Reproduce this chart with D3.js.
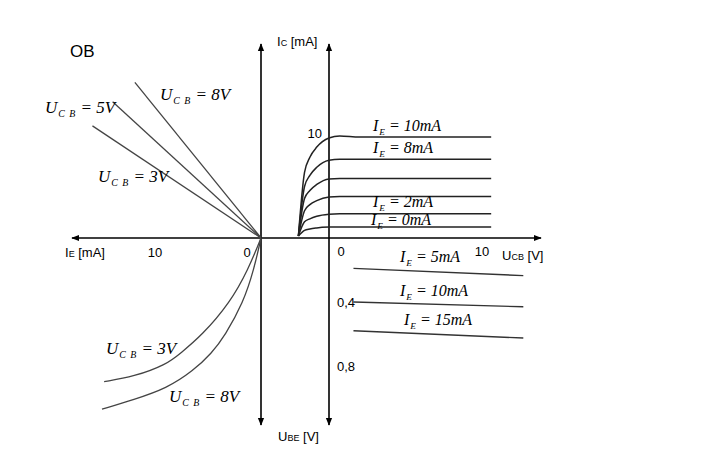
<!doctype html>
<html lang="en">
<head>
<meta charset="UTF-8">
<title>OB characteristics</title>
<script src="https://d3js.org/d3.v7.min.js"></script>
<style>
  body { margin: 0; background: #fff; }
  text { fill: #000; }
  .sans { font-family: "Liberation Sans", Arial, sans-serif; }
  .math { font-family: "Liberation Serif", "Times New Roman", serif; font-style: italic; }
</style>
</head>
<body>
<div id="chart"></div>
<script>
// output characteristics Ic = f(Ucb), one curve per Ie
const ucbPts = [-2, -1.6, -1.25, -0.8, 0, 0.7, 2, 10.6];
const icCurves = [
  [0.2, 6.5, 8.0, 9.0, 9.9, 10.1, 10.0, 10.0],
  [0.2, 5.1, 6.2, 7.0, 7.7, 7.8, 7.8, 7.8],
  [0.2, 3.9, 4.7, 5.3, 5.85, 5.9, 5.9, 5.9],
  [0.2, 2.7, 3.3, 3.7, 4.05, 4.1, 4.1, 4.1],
  [0.2, 1.6, 1.9, 2.15, 2.35, 2.4, 2.4, 2.4],
  [0.2, 0.75, 0.9, 1.0, 1.08, 1.1, 1.1, 1.1]
];
const icLabels = ['10mA', '8mA', null, null, '2mA', '0mA'];

// transfer Ic = f(Ie), straight lines per Ucb
const trUcb = ['8', '5', '3'];
const trIe = [11.9, 14.0, 15.9];
const trIc = [15.4, 13.5, 11.1];

// input Ie = f(Ube) per Ucb, points [Ie, Ube]
const inUcb = ['3', '8'];
const inCurves = [
  [[0, 0], [1.2, 0.196], [2.92, 0.404], [5.6, 0.61], [7.6, 0.72], [8.9, 0.79], [12.0, 0.867], [14.8, 0.898]],
  [[0, 0], [0.66, 0.196], [1.67, 0.404], [3.4, 0.61], [4.65, 0.72], [6.4, 0.83], [8.9, 0.94], [12.0, 1.01], [15.0, 1.07]]
];

// feedback Ube = f(Ucb) per Ie
const fbIe = ['5', '10', '15'];
const fbUcb = [1.6, 12.7];
const fbUbe = [[0.19, 0.235], [0.40, 0.43], [0.58, 0.625]];

// tick labels
const ucbTicks = [0, 10];
const ieTicks = [0, 10];
const icTicks = [10];
const ubeTicks = ['0,4', '0,8'];
const ubeTickVals = [0.4, 0.8];

const W = 701, H = 469;

const xR = d3.scaleLinear().domain([0, 10]).range([329, 482]);   // Ucb
const xL = d3.scaleLinear().domain([0, 10]).range([261, 155]);   // Ie
const yI = d3.scaleLinear().domain([0, 10]).range([238, 137]);   // Ic
const yU = d3.scaleLinear().domain([0, 0.4]).range([238, 302]);  // Ube

const svg = d3.select('#chart')
  .append('svg')
  .attr('width', W)
  .attr('height', H);

// arrows
const defs = svg.append('defs');
defs.append('marker')
  .attr('id', 'arr')
  .attr('viewBox', '0 0 10 10')
  .attr('refX', 9).attr('refY', 5)
  .attr('markerWidth', 5).attr('markerHeight', 5)
  .attr('orient', 'auto')
  .append('path')
  .attr('d', 'M0,1 L10,5 L0,9 Z')
  .attr('fill', '#000');

const axes = svg.append('g')
  .attr('stroke', '#000')
  .attr('stroke-width', 1.6);

// horizontal axis, both directions
axes.append('line')
  .attr('x1', xR(0)).attr('y1', yI(0)).attr('x2', 72).attr('y2', yI(0))
  .attr('marker-end', 'url(#arr)');
axes.append('line')
  .attr('x1', xR(0)).attr('y1', yI(0)).attr('x2', 541).attr('y2', yI(0))
  .attr('marker-end', 'url(#arr)');

// the two vertical axes
[xL(0), xR(0)].forEach(x => {
  axes.append('line')
    .attr('x1', x).attr('y1', yI(0)).attr('x2', x).attr('y2', 44)
    .attr('marker-end', 'url(#arr)');
  axes.append('line')
    .attr('x1', x).attr('y1', yI(0)).attr('x2', x).attr('y2', 425)
    .attr('marker-end', 'url(#arr)');
});

// curves
const curves = svg.append('g').attr('fill', 'none');

const outLine = d3.line()
  .x((d, i) => xR(ucbPts[i]))
  .y(d => yI(d))
  .curve(d3.curveMonotoneX);

curves.selectAll('.out')
  .data(icCurves)
  .enter()
  .append('path')
  .attr('class', 'out')
  .attr('d', outLine)
  .attr('stroke', '#222')
  .attr('stroke-width', 1.5);

curves.selectAll('.tr')
  .data(trUcb)
  .enter()
  .append('line')
  .attr('class', 'tr')
  .attr('x1', xL(0)).attr('y1', yI(0))
  .attr('x2', (d, i) => xL(trIe[i]))
  .attr('y2', (d, i) => yI(trIc[i]))
  .attr('stroke', '#444')
  .attr('stroke-width', 1.3);

const inLine = d3.line()
  .x(d => xL(d[0]))
  .y(d => yU(d[1]))
  .curve(d3.curveBasis);

curves.selectAll('.in')
  .data(inCurves)
  .enter()
  .append('path')
  .attr('class', 'in')
  .attr('d', inLine)
  .attr('stroke', '#444')
  .attr('stroke-width', 1.3);

curves.selectAll('.fb')
  .data(fbUbe)
  .enter()
  .append('line')
  .attr('class', 'fb')
  .attr('x1', xR(fbUcb[0])).attr('y1', d => yU(d[0]))
  .attr('x2', xR(fbUcb[1])).attr('y2', d => yU(d[1]))
  .attr('stroke', '#333')
  .attr('stroke-width', 1.4);

// tick labels
const ticks = svg.append('g').attr('class', 'sans').attr('font-size', 13);

ticks.selectAll('.tR')
  .data(ucbTicks)
  .enter()
  .append('text')
  .attr('x', d => d === 0 ? xR(d) + 12 : xR(d))
  .attr('y', yI(0) + 18)
  .attr('text-anchor', 'middle')
  .text(d => d);

ticks.selectAll('.tL')
  .data(ieTicks)
  .enter()
  .append('text')
  .attr('x', d => d === 0 ? xL(d) - 14 : xL(d))
  .attr('y', yI(0) + 19)
  .attr('text-anchor', 'middle')
  .text(d => d);

ticks.selectAll('.tI')
  .data(icTicks)
  .enter()
  .append('text')
  .attr('x', xR(0) - 7)
  .attr('y', d => yI(d) + 1)
  .attr('text-anchor', 'end')
  .text(d => d);

ticks.selectAll('.tU')
  .data(ubeTicks)
  .enter()
  .append('text')
  .attr('x', xR(0) + 8)
  .attr('y', (d, i) => yU(ubeTickVals[i]) + 5)
  .text(d => d);

// axis names with small-cap subscripts
function axisName(x, y, main, sc, rest) {
  const t = svg.append('text')
    .attr('class', 'sans')
    .attr('font-size', 13)
    .attr('x', x).attr('y', y);
  t.append('tspan').text(main);
  t.append('tspan').attr('font-size', 9).text(sc);
  t.append('tspan').text(rest);
}
axisName(277, 46, 'I', 'C', ' [mA]');
axisName(65, 257, 'I', 'E', ' [mA]');
axisName(502, 260, 'U', 'CB', ' [V]');
axisName(278, 441, 'U', 'BE', ' [V]');

svg.append('text')
  .attr('class', 'sans')
  .attr('font-size', 17)
  .attr('x', 70).attr('y', 57)
  .text('OB');

// italic formula labels
function mathLabel(x, y, main, sub, rest, size, spacing) {
  const t = svg.append('text')
    .attr('class', 'math')
    .attr('font-size', size)
    .attr('x', x).attr('y', y);
  t.append('tspan').text(main);
  t.append('tspan')
    .attr('font-size', size * 0.58)
    .attr('dy', 4)
    .attr('dx', 1)
    .attr('letter-spacing', spacing)
    .text(sub);
  t.append('tspan').attr('dy', -4).text(rest);
}

const ucbLabelPos = [[160, 100], [45, 113], [98, 182]];
trUcb.forEach((v, i) => {
  mathLabel(ucbLabelPos[i][0], ucbLabelPos[i][1], 'U', 'C B', ' = ' + v + 'V', 17, 1);
});

const inLabelPos = [[106, 354], [169, 402]];
inUcb.forEach((v, i) => {
  mathLabel(inLabelPos[i][0], inLabelPos[i][1], 'U', 'C B', ' = ' + v + 'V', 17, 1);
});

icLabels.forEach((v, i) => {
  if (!v) return;
  const x = i === 5 ? 371 : 373;
  const y = yI(icCurves[i][7]) - (i === 5 ? 2 : (i === 4 ? 7 : 6));
  mathLabel(x, y, 'I', 'E', ' = ' + v, 16, 0);
});

const fbLabelX = [400, 400, 404];
fbIe.forEach((v, i) => {
  mathLabel(fbLabelX[i], yU(fbUbe[i][0]) - 6, 'I', 'E', ' = ' + v + 'mA', 16, 0);
});
</script>
</body>
</html>
